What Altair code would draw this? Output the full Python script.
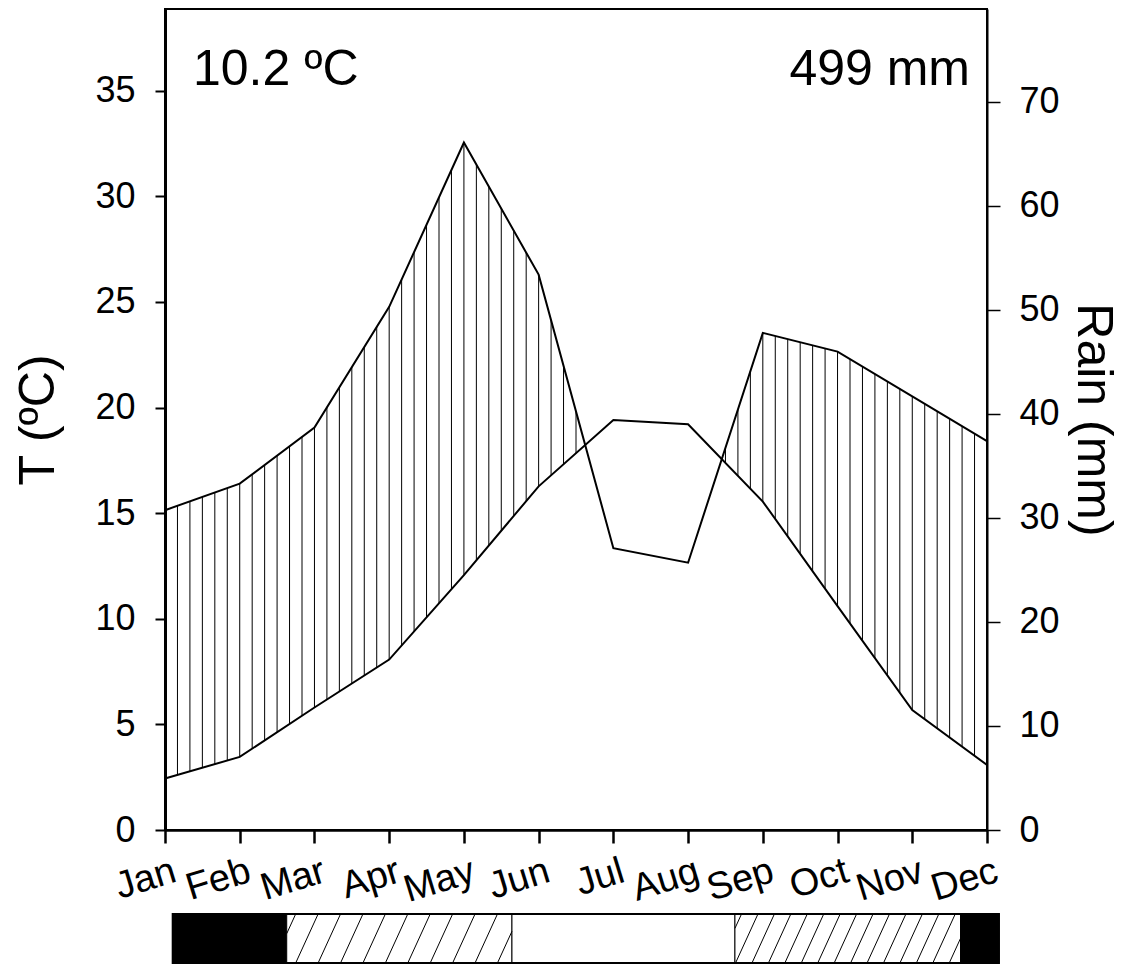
import json
import numpy as np
import pandas as pd
import altair as alt

# ---------------- data ----------------
MONTHS = ["Jan", "Feb", "Mar", "Apr", "May", "Jun",
          "Jul", "Aug", "Sep", "Oct", "Nov", "Dec"]
TEMP = [2.44, 3.46, 5.8, 8.07, 12.07, 16.27, 19.41, 19.21, 15.55, 10.6, 5.68, 3.08]
RAIN = [30.75, 33.3, 38.7, 50.3, 66.1, 53.4, 27.1, 25.7, 47.8, 46.0, 41.7, 37.4]
T_TICKS = [0, 5, 10, 15, 20, 25, 30, 35]
R_TICKS = [0, 10, 20, 30, 40, 50, 60, 70]
T_TOP = 38.87
R_TOP = 78.94
MEAN_LABEL = "10.2 ºC"
TOTAL_LABEL = "499 mm"
# frost bar: segment edges (in month-index units) and kind
FROST_EDGES = [0.103, 1.629, 4.643, 7.627, 10.647, 11.16]
FROST_KIND = ["sure", "probable", "none", "probable", "sure"]
FROST_STEP = [None, 0.30, None, 0.22, None]

FONT = "Liberation Sans"
W, H = 822, 821
BAR_TOP = H + 84      # pixel offset of the frost bar below the plot top
BAR_BOTTOM = BAR_TOP + 49

df = pd.DataFrame({"m": list(range(12)), "month": MONTHS, "T": TEMP, "R": RAIN})

# vertical hatching of the humid period (6 strokes per month)
xs = np.arange(0, 11 * 6 + 1) / 6.0
t_i = np.interp(xs, df["m"], TEMP)
r_i = np.interp(xs, df["m"], RAIN) * T_TOP / R_TOP
keep = r_i > t_i
hdf = pd.DataFrame({"x": xs[keep], "lo": t_i[keep], "hi": r_i[keep]})

xscale = alt.Scale(domain=[0, 11], nice=False, zero=False)
tscale = alt.Scale(domain=[0, T_TOP], nice=False, zero=True)
rscale = alt.Scale(domain=[0, R_TOP], nice=False, zero=True)
bscale = alt.Scale(domain=[0, 1], range=[BAR_BOTTOM, BAR_TOP], nice=False, zero=False)

x_axis = alt.Axis(
    values=list(range(12)),
    labelExpr=json.dumps(MONTHS) + "[datum.value]",
    title=None, grid=False, labelFlush=False, labelOverlap=False, labelBound=False,
    labelAngle=343, labelAlign="right", labelBaseline="top",
    labelFontSize=38, labelFont=FONT, labelColor="black", labelPadding=9, labelOffset=4,
    tickSize=13, tickWidth=2.5, tickColor="black",
    domainColor="black", domainWidth=2.5,
)
t_axis = alt.Axis(
    values=T_TICKS, orient="left", title="T (ºC)", grid=False,
    labelFontSize=36, labelFont=FONT, labelColor="black", labelPadding=20,
    tickSize=10, tickWidth=2, tickColor="black",
    domainColor="black", domainWidth=3,
    titleFontSize=50, titleFont=FONT, titleFontWeight="normal", titleColor="black",
    titlePadding=31,
)
r_axis = alt.Axis(
    values=R_TICKS, orient="right", title="Rain (mm)", grid=False,
    labelFontSize=36, labelFont=FONT, labelColor="black", labelPadding=19,
    tickSize=13, tickWidth=1.5, tickColor="black",
    domainColor="black", domainWidth=2,
    titleFontSize=50, titleFont=FONT, titleFontWeight="normal", titleColor="black",
    titlePadding=8,
)

X = lambda f: alt.X(f, scale=xscale, axis=x_axis)

# ---- temperature group ----
hatch = alt.Chart(hdf).mark_rule(color="black", strokeWidth=1).encode(
    x=X("x:Q"), y=alt.Y("lo:Q", scale=tscale, axis=t_axis), y2="hi:Q",
)
t_line = alt.Chart(df).mark_line(color="black", strokeWidth=2).encode(
    x=X("m:Q"), y=alt.Y("T:Q", scale=tscale, axis=t_axis),
)
one = pd.DataFrame({"a": [0]})
txt_t = alt.Chart(one).mark_text(
    text=MEAN_LABEL, font=FONT, fontSize=50, align="left", baseline="alphabetic", color="black"
).encode(x=alt.value(28), y=alt.value(76))

# ---- rain group ----
r_line = alt.Chart(df).mark_line(color="black", strokeWidth=2).encode(
    x=X("m:Q"), y=alt.Y("R:Q", scale=rscale, axis=r_axis),
)
txt_r = alt.Chart(one).mark_text(
    text=TOTAL_LABEL, font=FONT, fontSize=50, align="right", baseline="alphabetic", color="black"
).encode(x=alt.value(805), y=alt.value(76))

# ---- frost bar group (below the plot) ----
seg_df = pd.DataFrame({
    "x0": FROST_EDGES[:-1], "x1": FROST_EDGES[1:], "kind": FROST_KIND,
    "y0": [0] * 5, "y1": [1] * 5,
})
rows = []
for a, b, step in zip(FROST_EDGES[:-1], FROST_EDGES[1:], FROST_STEP):
    if step is None:
        continue
    d = 0.30
    x0 = a - d + step * 0.4
    while x0 < b:
        xa, ya, xb, yb = x0, 0.0, x0 + d, 1.0
        if xa < a:
            ya = (a - x0) / d
            xa = a
        if xb > b:
            yb = (b - x0) / d
            xb = b
        if xb > xa:
            rows.append({"xa": xa, "ya": ya, "xb": xb, "yb": yb})
        x0 += step
ddf = pd.DataFrame(rows)

segs = alt.Chart(seg_df).mark_rect(stroke="black", strokeWidth=1).encode(
    x=X("x0:Q"), x2="x1:Q",
    y=alt.Y("y0:Q", scale=bscale, axis=None), y2="y1:Q",
    fill=alt.Color("kind:N", scale=alt.Scale(domain=["sure", "probable", "none"],
                                             range=["black", "white", "white"]), legend=None),
)
diag = alt.Chart(ddf).mark_rule(color="black", strokeWidth=1).encode(
    x=X("xa:Q"), x2="xb:Q",
    y=alt.Y("ya:Q", scale=bscale, axis=None), y2="yb:Q",
)
outline_df = pd.DataFrame({"x0": [FROST_EDGES[0]], "x1": [FROST_EDGES[-1]], "y0": [0], "y1": [1]})
outline = alt.Chart(outline_df).mark_rect(fillOpacity=0, stroke="black", strokeWidth=2).encode(
    x=X("x0:Q"), x2="x1:Q",
    y=alt.Y("y0:Q", scale=bscale, axis=None), y2="y1:Q",
)

chart = alt.layer(
    alt.layer(hatch, t_line, txt_t),
    alt.layer(r_line, txt_r),
    alt.layer(segs, diag, outline),
).resolve_scale(y="independent").properties(
    width=W, height=H,
    autosize=alt.AutoSizeParams(type="none"),
    padding={"left": 157, "top": 1, "right": 133, "bottom": 135},
).configure(font=FONT).configure_view(stroke="black", strokeWidth=2)

chart.save("out.html", embed_options={"renderer": "svg", "actions": False})
